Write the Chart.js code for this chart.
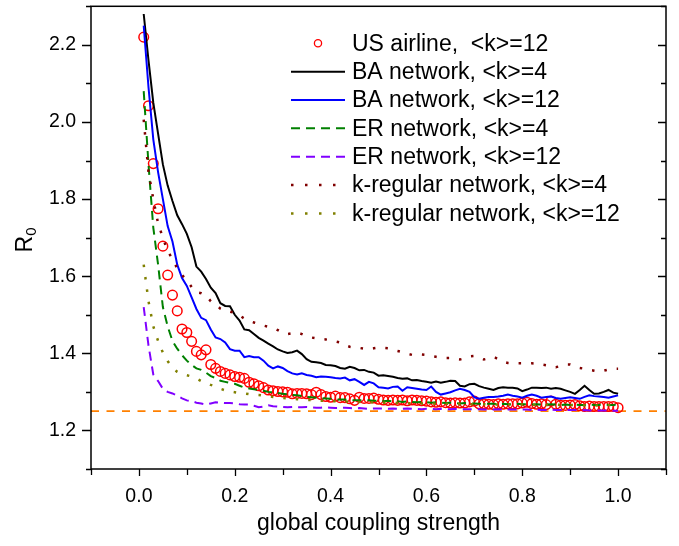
<!DOCTYPE html>
<html>
<head>
<meta charset="utf-8">
<script src="https://cdn.jsdelivr.net/npm/chart.js@4.4.1/dist/chart.umd.min.js"></script>
<style>
  html, body { margin:0; padding:0; background:#fff; }
  #wrap { width:679px; height:546px; }
</style>
</head>
<body>
<div id="wrap"><canvas id="r0Chart" width="679" height="546"></canvas></div>
<script>
/* ── R0 vs global coupling strength ───────────────────── */
const coupling = [
  0.01,0.02,0.03,0.04,0.05,0.06,0.07,0.08,0.09,0.10,
  0.11,0.12,0.13,0.14,0.15,0.16,0.17,0.18,0.19,0.20,
  0.21,0.22,0.23,0.24,0.25,0.26,0.27,0.28,0.29,0.30,
  0.31,0.32,0.33,0.34,0.35,0.36,0.37,0.38,0.39,0.40,
  0.41,0.42,0.43,0.44,0.45,0.46,0.47,0.48,0.49,0.50,
  0.51,0.52,0.53,0.54,0.55,0.56,0.57,0.58,0.59,0.60,
  0.61,0.62,0.63,0.64,0.65,0.66,0.67,0.68,0.69,0.70,
  0.71,0.72,0.73,0.74,0.75,0.76,0.77,0.78,0.79,0.80,
  0.81,0.82,0.83,0.84,0.85,0.86,0.87,0.88,0.89,0.90,
  0.91,0.92,0.93,0.94,0.95,0.96,0.97,0.98,0.99,1.00
];

const usAirline = [
  2.220,2.042,1.892,1.775,1.678,1.603,1.551,1.510,1.463,1.454,
  1.431,1.405,1.396,1.409,1.371,1.361,1.353,1.348,1.344,1.340,
  1.338,1.335,1.325,1.321,1.316,1.311,1.305,1.303,1.301,1.300,
  1.299,1.295,1.296,1.296,1.295,1.293,1.299,1.293,1.288,1.286,
  1.289,1.285,1.285,1.282,1.278,1.286,1.283,1.283,1.284,1.281,
  1.279,1.278,1.279,1.278,1.279,1.277,1.279,1.278,1.277,1.276,
  1.274,1.273,1.274,1.272,1.271,1.272,1.271,1.271,1.274,1.276,
  1.269,1.269,1.268,1.267,1.269,1.268,1.269,1.269,1.269,1.271,
  1.273,1.270,1.268,1.269,1.267,1.276,1.268,1.265,1.265,1.266,
  1.267,1.264,1.262,1.263,1.262,1.262,1.262,1.262,1.262,1.259
];

const baK4 = [
  2.280,2.160,2.050,1.970,1.890,1.835,1.795,1.758,1.735,1.710,
  1.675,1.625,1.612,1.593,1.570,1.556,1.530,1.523,1.522,1.500,
  1.485,1.462,1.460,1.450,1.440,1.433,1.425,1.418,1.410,1.405,
  1.401,1.403,1.407,1.398,1.385,1.378,1.377,1.375,1.370,1.369,
  1.367,1.362,1.360,1.365,1.362,1.356,1.357,1.352,1.350,1.342,
  1.343,1.341,1.339,1.336,1.334,1.335,1.330,1.331,1.328,1.326,
  1.324,1.327,1.324,1.326,1.329,1.328,1.316,1.314,1.320,1.321,
  1.315,1.311,1.308,1.305,1.310,1.312,1.311,1.311,1.309,1.302,
  1.306,1.311,1.311,1.310,1.311,1.308,1.310,1.308,1.304,1.300,
  1.295,1.305,1.316,1.305,1.295,1.296,1.300,1.305,1.298,1.295
];

const baK12 = [
  2.250,2.090,1.955,1.870,1.800,1.730,1.690,1.630,1.595,1.575,
  1.545,1.515,1.492,1.486,1.462,1.441,1.437,1.428,1.411,1.407,
  1.407,1.390,1.393,1.390,1.390,1.381,1.368,1.361,1.366,1.362,
  1.354,1.348,1.345,1.348,1.344,1.342,1.338,1.340,1.339,1.338,
  1.336,1.335,1.337,1.330,1.333,1.326,1.318,1.326,1.322,1.312,
  1.311,1.309,1.313,1.314,1.303,1.312,1.310,1.308,1.306,1.305,
  1.314,1.300,1.293,1.296,1.299,1.304,1.308,1.305,1.300,1.286,
  1.282,1.285,1.287,1.287,1.288,1.290,1.293,1.290,1.288,1.285,
  1.290,1.293,1.290,1.285,1.287,1.288,1.284,1.282,1.284,1.286,
  1.284,1.282,1.287,1.291,1.289,1.288,1.287,1.285,1.288,1.291
];

const erK4 = [
  2.080,1.890,1.726,1.630,1.520,1.470,1.432,1.412,1.395,1.381,
  1.370,1.361,1.357,1.350,1.341,1.336,1.329,1.326,1.323,1.321,
  1.316,1.311,1.309,1.307,1.305,1.303,1.300,1.299,1.297,1.295,
  1.294,1.292,1.291,1.289,1.287,1.286,1.285,1.284,1.283,1.282,
  1.281,1.280,1.280,1.279,1.278,1.278,1.279,1.278,1.277,1.277,
  1.276,1.277,1.275,1.276,1.274,1.275,1.274,1.273,1.274,1.273,
  1.272,1.273,1.272,1.271,1.272,1.271,1.270,1.271,1.270,1.270,
  1.269,1.270,1.269,1.269,1.268,1.269,1.268,1.268,1.269,1.268,
  1.268,1.267,1.268,1.267,1.267,1.268,1.267,1.266,1.267,1.266,
  1.267,1.266,1.266,1.267,1.266,1.266,1.267,1.266,1.266,1.267
];

const erK12 = [
  1.520,1.420,1.345,1.328,1.308,1.300,1.296,1.290,1.283,1.278,
  1.276,1.272,1.270,1.267,1.270,1.273,1.272,1.271,1.271,1.270,
  1.268,1.267,1.267,1.264,1.260,1.262,1.265,1.263,1.262,1.261,
  1.260,1.261,1.260,1.260,1.261,1.260,1.259,1.259,1.260,1.259,
  1.258,1.258,1.259,1.258,1.257,1.258,1.257,1.256,1.257,1.257,
  1.257,1.256,1.257,1.256,1.256,1.257,1.256,1.256,1.255,1.256,
  1.256,1.255,1.256,1.255,1.255,1.256,1.255,1.255,1.255,1.255,
  1.255,1.254,1.255,1.254,1.255,1.254,1.254,1.254,1.254,1.254,
  1.254,1.253,1.254,1.253,1.253,1.254,1.253,1.253,1.253,1.253,
  1.253,1.252,1.253,1.252,1.252,1.252,1.252,1.251,1.251,1.251
];

const kregK4 = [
  2.006,1.870,1.800,1.737,1.700,1.665,1.645,1.620,1.603,1.590,
  1.572,1.558,1.556,1.550,1.535,1.527,1.516,1.510,1.508,1.505,
  1.498,1.490,1.484,1.480,1.476,1.472,1.469,1.466,1.460,1.453,
  1.450,1.452,1.454,1.450,1.444,1.441,1.439,1.437,1.436,1.434,
  1.431,1.428,1.421,1.417,1.415,1.414,1.412,1.411,1.413,1.415,
  1.414,1.413,1.409,1.406,1.403,1.399,1.396,1.397,1.397,1.396,
  1.393,1.391,1.389,1.388,1.388,1.386,1.384,1.387,1.392,1.393,
  1.389,1.384,1.387,1.391,1.385,1.378,1.375,1.374,1.374,1.374,
  1.374,1.374,1.373,1.371,1.369,1.366,1.364,1.367,1.371,1.371,
  1.366,1.362,1.360,1.357,1.355,1.353,1.355,1.358,1.360,1.360
];

const kregK12 = [
  1.630,1.535,1.470,1.432,1.402,1.380,1.362,1.352,1.346,1.343,
  1.340,1.335,1.328,1.324,1.318,1.314,1.308,1.304,1.301,1.299,
  1.297,1.296,1.294,1.293,1.292,1.290,1.289,1.287,1.286,1.284,
  1.283,1.282,1.281,1.280,1.279,1.279,1.278,1.277,1.277,1.276,
  1.276,1.275,1.275,1.274,1.274,1.274,1.273,1.273,1.273,1.272,
  1.272,1.272,1.271,1.271,1.271,1.271,1.270,1.270,1.270,1.270,
  1.270,1.269,1.269,1.269,1.269,1.269,1.268,1.268,1.268,1.268,
  1.268,1.268,1.267,1.267,1.267,1.267,1.267,1.267,1.267,1.267,
  1.266,1.267,1.266,1.266,1.266,1.266,1.267,1.266,1.266,1.266,
  1.266,1.266,1.265,1.266,1.265,1.265,1.265,1.266,1.265,1.265
];

const thresholdR0  = 1.25;
const xTickLabels  = ["0.0","0.2","0.4","0.6","0.8","1.0"];
const yTickLabels  = ["1.2","1.4","1.6","1.8","2.0","2.2"];

const FONT = "'Liberation Sans', Arial, sans-serif";

const seriesConfig = [
  {label:"US airline,  <k>=12",         values:usAirline, color:"#FF0000", marker:true},
  {label:"BA network, <k>=4",           values:baK4,      color:"#000000", dash:[]},
  {label:"BA network, <k>=12",          values:baK12,     color:"#0000FF", dash:[]},
  {label:"ER network, <k>=4",           values:erK4,      color:"#008000", dash:[9,6]},
  {label:"ER network, <k>=12",          values:erK12,     color:"#8000FF", dash:[9,6]},
  {label:"k-regular network, <k>=4",    values:kregK4,    color:"#800000", dash:[2.5,10], dotted:true},
  {label:"k-regular network, <k>=12",   values:kregK12,   color:"#808000", dash:[2.5,10], dotted:true}
];

const toPoints = vals => coupling.map((x, i) => ({x, y: vals[i]}));

const datasets = seriesConfig.map((s, i) => s.marker ? {
  label: s.label, data: toPoints(s.values), showLine: false,
  pointStyle: "circle", pointRadius: 4.8, pointBorderWidth: 1.5,
  pointBorderColor: s.color, pointBackgroundColor: "rgba(0,0,0,0)",
  borderColor: s.color, order: 20 - i
} : {
  label: s.label, data: toPoints(s.values), showLine: true,
  borderColor: s.color, borderWidth: s.dotted ? 2.5 : 2, borderDash: s.dash,
  borderCapStyle: "butt", pointRadius: 0, tension: 0, order: 20 - i
});

// horizontal reference line at R0 = 1.25
datasets.push({
  label: "threshold", data: [{x:-0.1, y:thresholdR0}, {x:1.1, y:thresholdR0}],
  showLine: true, borderColor: "#FF8000", borderWidth: 1.8, borderDash: [8,7.5],
  pointRadius: 0, order: 30
});

const fmt1 = v => (Math.round(v * 10) / 10).toFixed(1);

const framePlugin = {
  id: "frame",
  afterDraw(chart) {
    const {ctx, chartArea: a, scales: {x, y}} = chart;
    ctx.save();
    ctx.strokeStyle = "#000";
    ctx.lineWidth = 1.5;
    ctx.strokeRect(a.left, a.top, a.right - a.left, a.bottom - a.top);

    // bottom ticks (outward)
    ctx.lineWidth = 1.3;
    x.ticks.forEach(t => {
      const px = Math.round(x.getPixelForValue(t.value)) + 0.5;
      const major = xTickLabels.includes(fmt1(t.value));
      ctx.beginPath();
      ctx.moveTo(px, a.bottom);
      ctx.lineTo(px, a.bottom + (major ? 7 : 6));
      ctx.stroke();
    });
    // left ticks (outward) and right ticks (inward)
    y.ticks.forEach(t => {
      const py = Math.round(y.getPixelForValue(t.value)) + 0.5;
      const major = yTickLabels.includes(fmt1(t.value));
      ctx.beginPath();
      ctx.moveTo(a.left, py);
      ctx.lineTo(a.left - (major ? 9 : 5), py);
      ctx.moveTo(a.right, py);
      ctx.lineTo(a.right - (major ? 8 : 5), py);
      ctx.stroke();
    });

    // axis titles
    ctx.fillStyle = "#000";
    ctx.font = `23px ${FONT}`;
    ctx.textAlign = "center";
    ctx.textBaseline = "middle";
    ctx.fillText("global coupling strength", (a.left + a.right) / 2, 524);

    ctx.save();
    ctx.translate(26, 240);
    ctx.rotate(-Math.PI / 2);
    ctx.textAlign = "left";
    ctx.textBaseline = "middle";
    ctx.font = `23px ${FONT}`;
    const rw = ctx.measureText("R").width;
    const subFont = `15px ${FONT}`;
    ctx.font = subFont;
    const sw = ctx.measureText("0").width;
    const start = -(rw + sw) / 2;
    ctx.font = `23px ${FONT}`;
    ctx.fillText("R", start, 0);
    ctx.font = subFont;
    ctx.fillText("0", start + rw, 6);
    ctx.restore();

    // legend
    const rowY0 = 43.3, rowH = 28.35;
    const lx0 = 291, lx1 = 345, tx = 352;
    ctx.font = `23px ${FONT}`;
    ctx.textAlign = "left";
    ctx.textBaseline = "middle";
    seriesConfig.forEach((s, i) => {
      const ry = rowY0 + i * rowH;
      ctx.strokeStyle = s.color;
      if (s.marker) {
        ctx.lineWidth = 1.3;
        ctx.setLineDash([]);
        ctx.beginPath();
        ctx.arc(318, ry, 3.6, 0, Math.PI * 2);
        ctx.stroke();
      } else {
        ctx.lineWidth = s.dotted ? 2.5 : 2;
        ctx.setLineDash(s.dotted ? [2.5, 11.5] : s.dash);
        ctx.beginPath();
        ctx.moveTo(lx0, ry);
        ctx.lineTo(lx1, ry);
        ctx.stroke();
      }
      ctx.setLineDash([]);
      ctx.fillStyle = "#000";
      ctx.fillText(s.label, tx, ry + 1);
    });
    ctx.restore();
  }
};

new Chart(document.getElementById("r0Chart").getContext("2d"), {
  type: "scatter",
  data: { datasets },
  plugins: [framePlugin],
  options: {
    responsive: false,
    animation: false,
    devicePixelRatio: 1,
    layout: { padding: { left: 0, right: 13, top: 5, bottom: 0 } },
    plugins: { legend: { display: false }, tooltip: { enabled: false } },
    scales: {
      x: {
        type: "linear", min: -0.1, max: 1.1,
        grid: { display: false, drawTicks: false },
        border: { display: false },
        afterFit: s => { s.height = 77; s.paddingLeft = 0; s.paddingRight = 0; },
        ticks: {
          stepSize: 0.1, autoSkip: false, maxRotation: 0, padding: 16,
          color: "#000", font: { family: FONT, size: 19.5 },
          callback: v => xTickLabels.includes(fmt1(v)) ? fmt1(v) : ""
        }
      },
      y: {
        type: "linear", min: 1.1, max: 2.3,
        grid: { display: false, drawTicks: false },
        border: { display: false },
        afterFit: s => { s.width = 91; s.paddingTop = 0; s.paddingBottom = 0; },
        ticks: {
          stepSize: 0.1, autoSkip: false, padding: 15,
          color: "#000", font: { family: FONT, size: 19.5 },
          callback: v => yTickLabels.includes(fmt1(v)) ? fmt1(v) : ""
        }
      }
    }
  }
});
</script>
</body>
</html>
